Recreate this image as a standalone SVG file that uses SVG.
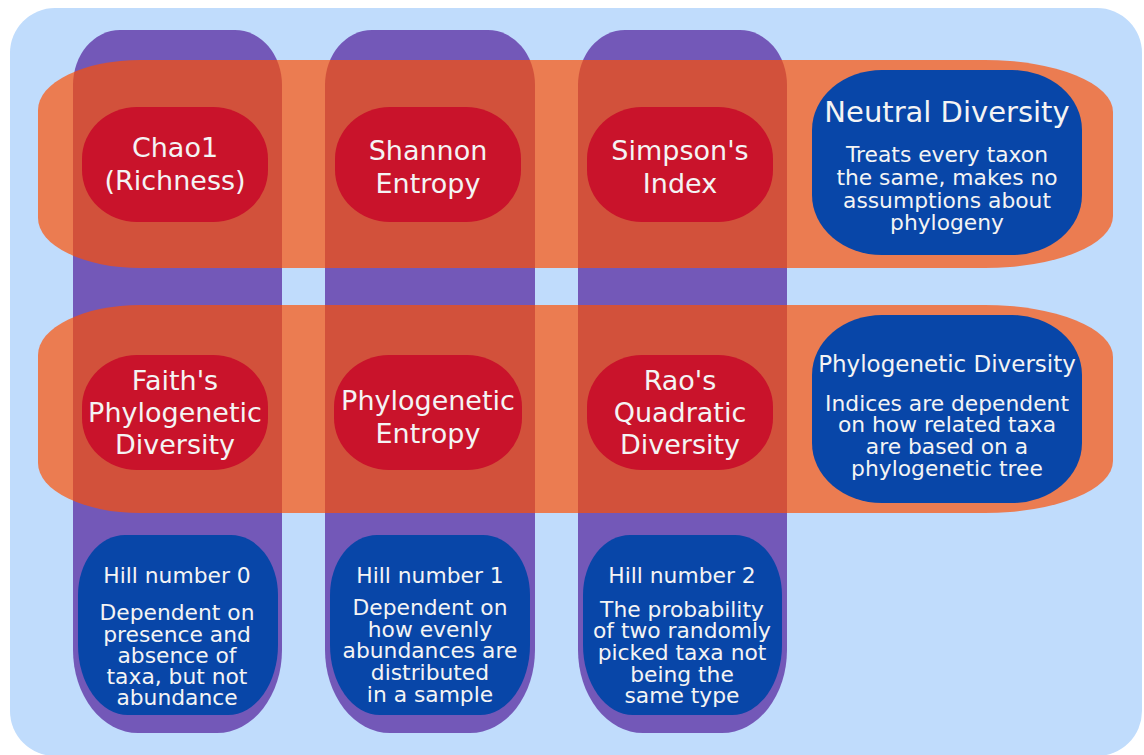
<svg xmlns="http://www.w3.org/2000/svg" width="1144" height="755" viewBox="0 0 1144 755">
<style>
.col{fill:#7358b8}
.row{fill:#ff4e00;fill-opacity:0.68}
.red{fill:#c9132b}
.blue{fill:#0846a8}
text{font-family:"DejaVu Sans","Liberation Sans",sans-serif;fill:#f4f4f4;text-anchor:middle}
.t27{font-size:27px}
.t22{font-size:21.8px}
</style>
<rect x="10" y="8" width="1132" height="748" rx="45" ry="45" fill="#c0dcfc"/>
<g id="columns">
<path id="col0" class="col" d="M73,85 A47 55 0 0 1 120,30 H235 A47 55 0 0 1 282,85 V650 A65 83 0 0 1 217,733 H138 A65 83 0 0 1 73,650 Z"/>
<path id="col1" class="col" d="M325,85 A47 55 0 0 1 372,30 H488 A47 55 0 0 1 535,85 V650 A65 83 0 0 1 470,733 H390 A65 83 0 0 1 325,650 Z"/>
<path id="col2" class="col" d="M578,85 A47 55 0 0 1 625,30 H740 A47 55 0 0 1 787,85 V650 A65 83 0 0 1 722,733 H643 A65 83 0 0 1 578,650 Z"/>
</g>
<g id="rows">
<path id="row-neutral" class="row" d="M140,60 H985 A128 52 0 0 1 1113,112 V216 A128 52 0 0 1 985,268 H140 A102 50 0 0 1 38,218 V110 A102 50 0 0 1 140,60 Z"/>
<path id="row-phylo" class="row" d="M140,305 H985 A128 52 0 0 1 1113,357 V461 A128 52 0 0 1 985,513 H140 A102 50 0 0 1 38,463 V355 A102 50 0 0 1 140,305 Z"/>
</g>
<g id="chao1">
<rect class="red" x="82" y="107" width="186" height="115" rx="55" ry="52"/>
<text class="t27" x="175" y="157">Chao1</text>
<text class="t27" x="175" y="190">(Richness)</text>
</g>
<g id="shannon">
<rect class="red" x="335" y="107" width="186" height="115" rx="55" ry="52"/>
<text class="t27" x="428" y="160">Shannon</text>
<text class="t27" x="428" y="193">Entropy</text>
</g>
<g id="simpson">
<rect class="red" x="587" y="107" width="186" height="115" rx="55" ry="52"/>
<text class="t27" x="680" y="160">Simpson's</text>
<text class="t27" x="680" y="193">Index</text>
</g>
<g id="faith">
<rect class="red" x="82" y="355" width="186" height="115" rx="55" ry="52"/>
<text class="t27" x="175" y="390">Faith's</text>
<text class="t27" x="175" y="422">Phylogenetic</text>
<text class="t27" x="175" y="454">Diversity</text>
</g>
<g id="phylo-entropy">
<rect class="red" x="334" y="355" width="188" height="115" rx="55" ry="52"/>
<text class="t27" x="428" y="410">Phylogenetic</text>
<text class="t27" x="428" y="443">Entropy</text>
</g>
<g id="rao">
<rect class="red" x="587" y="355" width="186" height="115" rx="55" ry="52"/>
<text class="t27" x="680" y="390">Rao's</text>
<text class="t27" x="680" y="422">Quadratic</text>
<text class="t27" x="680" y="454">Diversity</text>
</g>
<g id="neutral">
<rect class="blue" x="812" y="70" width="270" height="185" rx="70" ry="60"/>
<text x="947" y="122" style="font-size:29px">Neutral Diversity</text>
<text class="t22" x="947" y="162">Treats every taxon</text>
<text class="t22" x="947" y="185">the same, makes no</text>
<text class="t22" x="947" y="208">assumptions about</text>
<text class="t22" x="947" y="230">phylogeny</text>
</g>
<g id="phylogenetic">
<rect class="blue" x="812" y="315" width="270" height="188" rx="70" ry="60"/>
<text x="947" y="372" style="font-size:23px">Phylogenetic Diversity</text>
<text class="t22" x="947" y="411">Indices are dependent</text>
<text class="t22" x="947" y="432">on how related taxa</text>
<text class="t22" x="947" y="454">are based on a</text>
<text class="t22" x="947" y="476">phylogenetic tree</text>
</g>
<g id="hill0">
<path class="blue" d="M78,595 A47 60 0 0 1 125,535 H231 A47 60 0 0 1 278,595 V645 A50 70 0 0 1 228,715 H128 A50 70 0 0 1 78,645 Z"/>
<text class="t22" x="177" y="583">Hill number 0</text>
<text class="t22" x="177" y="620">Dependent on</text>
<text class="t22" x="177" y="642">presence and</text>
<text class="t22" x="177" y="663">absence of</text>
<text class="t22" x="177" y="684">taxa, but not</text>
<text class="t22" x="177" y="705">abundance</text>
</g>
<g id="hill1">
<path class="blue" d="M330,595 A47 60 0 0 1 377,535 H483 A47 60 0 0 1 530,595 V645 A50 70 0 0 1 480,715 H380 A50 70 0 0 1 330,645 Z"/>
<text class="t22" x="430" y="583">Hill number 1</text>
<text class="t22" x="430" y="615">Dependent on</text>
<text class="t22" x="430" y="637">how evenly</text>
<text class="t22" x="430" y="658">abundances are</text>
<text class="t22" x="430" y="680">distributed</text>
<text class="t22" x="430" y="702">in a sample</text>
</g>
<g id="hill2">
<path class="blue" d="M583,595 A47 60 0 0 1 630,535 H735 A47 60 0 0 1 782,595 V645 A50 70 0 0 1 732,715 H633 A50 70 0 0 1 583,645 Z"/>
<text class="t22" x="682" y="583">Hill number 2</text>
<text class="t22" x="682" y="617">The probability</text>
<text class="t22" x="682" y="638">of two randomly</text>
<text class="t22" x="682" y="660">picked taxa not</text>
<text class="t22" x="682" y="682">being the</text>
<text class="t22" x="682" y="703">same type</text>
</g>
<g id="connectors"/>
</svg>
